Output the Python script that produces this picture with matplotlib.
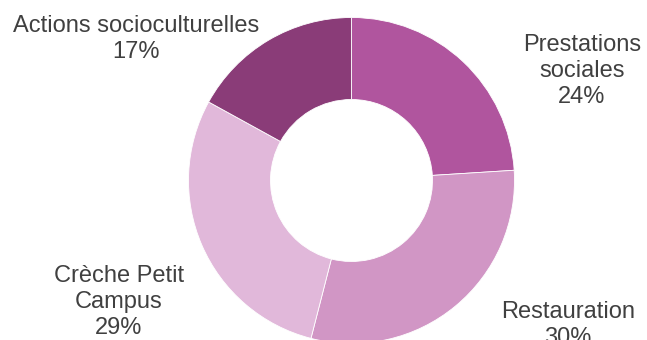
import matplotlib.pyplot as plt

# === Data ===
categories = ["Prestations\nsociales", "Restauration", "Crèche Petit\nCampus", "Actions socioculturelles"]
shares = [24, 30, 29, 17]
colors = ["#B0559E", "#D196C5", "#E1B8DA", "#8A3C78"]

# label centres in pixel coords (x from left, y from top)
label_pos = [(582, 71), (568, 325), (119, 302), (136, 39)]

W, H = 647, 340

fig = plt.figure(figsize=(W / 100, H / 100), dpi=100)
ax = fig.add_axes([0, 0, 1, 1])

ax.pie(
    shares,
    colors=colors,
    startangle=90,
    counterclock=False,
    center=(351.5, H - 180.5),
    radius=163,
    wedgeprops=dict(width=82, edgecolor="white", linewidth=0.6),
    frame=True,
)
ax.set_xlim(0, W)
ax.set_ylim(0, H)
ax.axis("off")

for name, val, (x, y) in zip(categories, shares, label_pos):
    ax.text(x, H - y, f"{name}\n{val}%", ha="center", va="center",
            multialignment="center", fontsize=17, color="#404040",
            family="Liberation Sans", linespacing=1.22)

plt.savefig("out.png", dpi=100)
